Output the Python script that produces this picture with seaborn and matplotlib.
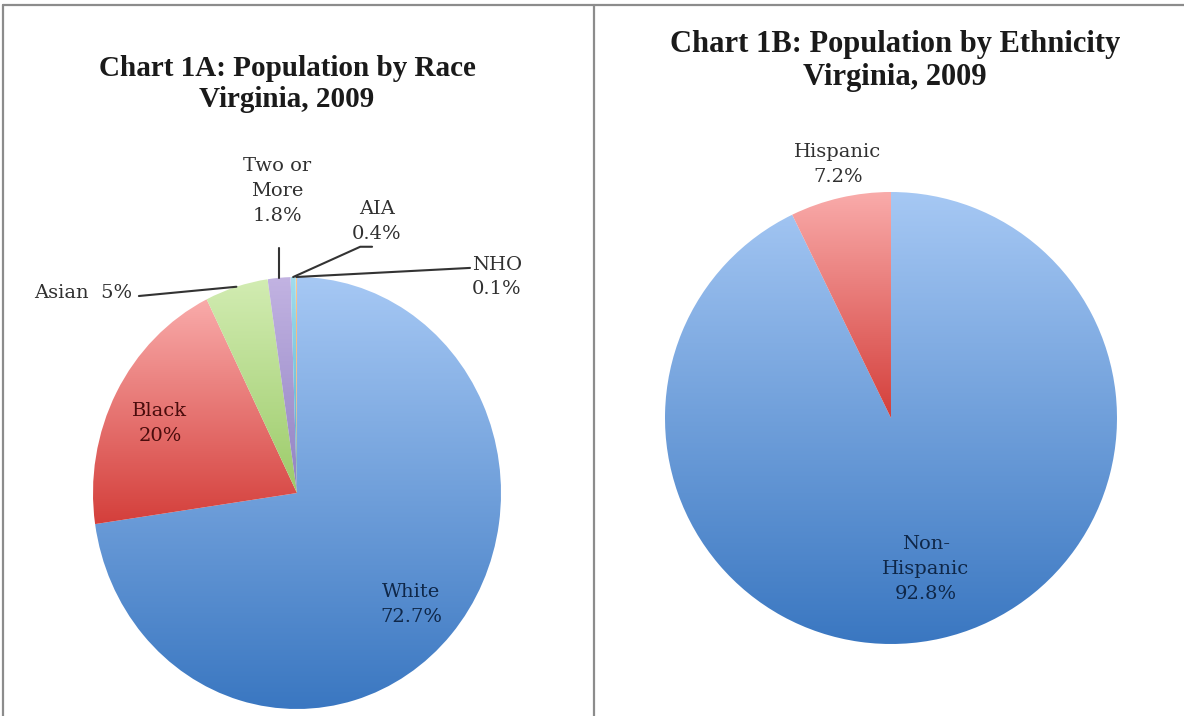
import numpy as np
import matplotlib
matplotlib.use('Agg')
from matplotlib import pyplot as plt
from matplotlib.lines import Line2D
import seaborn as sns

# data
race_names = ['White', 'Black', 'Asian', 'Two or\nMore', 'AIA', 'NHO']
race_values = [72.7, 20.0, 5.0, 1.8, 0.4, 0.1]
race_pct = ['72.7%', '20%', '5%', '1.8%', '0.4%', '0.1%']

eth_names = ['Non-\nHispanic', 'Hispanic']
eth_values = [92.8, 7.2]
eth_pct = ['92.8%', '7.2%']

# gradient colours (top, bottom) per slice, excel style
grad_cols = [('#a6c8f4', '#3a77c1'),
             ('#f9abaa', '#d43f3b'),
             ('#d2ecb2', '#9ccb69'),
             ('#c2b3e2', '#9182c3'),
             ('#a2dcec', '#4aaccc'),
             ('#fcc890', '#f09040')]

sns.set_theme(style='white')
plt.rcParams['font.family'] = ['DejaVu Serif', 'DejaVu Sans']

fig = plt.figure(figsize=(11.84, 7.16), dpi=100)
fig.patch.set_facecolor('white')

def px_box(x0, y0, x1, y1):
    W, H = 1184, 716
    return [x0 / W, (H - y1) / H, (x1 - x0) / W, (y1 - y0) / H]

ax1 = fig.add_axes(px_box(93, 277, 501, 709))
ax2 = fig.add_axes(px_box(665, 192, 1117, 644))

grad = np.linspace(0, 1, 256).reshape(-1, 1)


def draw_pie(ax, values):
    wedges, _ = ax.pie(values, startangle=90, counterclock=False,
                       wedgeprops=dict(linewidth=0))
    for w, (c_top, c_bot) in zip(wedges, grad_cols):
        bb = w.get_path().get_extents()
        w.set_facecolor('none')
        cm = sns.blend_palette([c_top, c_bot], as_cmap=True)
        im = ax.imshow(grad, cmap=cm, extent=(bb.x0, bb.x1, bb.y0, bb.y1),
                       aspect='auto', origin='upper', zorder=1)
        im.set_clip_path(w)
    ax.set_xlim(-1, 1)
    ax.set_ylim(-1, 1)
    ax.set_aspect('auto')
    ax.axis('off')


def mid_point(values, i):
    before = sum(values[:i])
    ang = np.deg2rad(90 - 3.6 * (before + values[i] / 2))
    return np.cos(ang), np.sin(ang)


draw_pie(ax1, race_values)
draw_pie(ax2, eth_values)

# label layout for chart 1A: (x, y, colour, leader start / elbow)
race_layout = {
    'White': (0.56, -0.515, '#0f2748', None),
    'Black': (-0.672, 0.32, '#4a0c0c', None),
    'Asian': (-1.05, 0.925, '#303030', [(-0.775, 0.912)]),
    'Two or\nMore': (-0.098, 1.40, '#303030', 'vertical'),
    'AIA': (0.392, 1.255, '#303030', [(0.368, 1.14), (0.31, 1.14)]),
    'NHO': (0.98, 1.0, '#303030', [(0.848, 1.042)]),
}
lkw = dict(ha='center', va='center', fontsize=14, linespacing=1.5)
for i, name in enumerate(race_names):
    x, y, col, lead = race_layout[name]
    if name == 'Asian':
        txt = f'{name}  {race_pct[i]}'
    else:
        txt = f'{name}\n{race_pct[i]}'
    ax1.text(x, y, txt, color=col, clip_on=False, zorder=5, **lkw)
    if lead is None:
        continue
    tx, ty = mid_point(race_values, i)
    if lead == 'vertical':
        pts = [(tx, 1.135), (tx, ty)]
    else:
        pts = lead + [(tx, ty)]
    xs, ys = zip(*pts)
    ax1.plot(xs, ys, color='#333333', lw=1.5, clip_on=False, zorder=4)

eth_layout = {
    'Non-\nHispanic': (0.155, -0.668, '#0f2748'),
    'Hispanic': (-0.235, 1.12, '#303030'),
}
for i, name in enumerate(eth_names):
    x, y, col = eth_layout[name]
    ax2.text(x, y, f'{name}\n{eth_pct[i]}', color=col, clip_on=False,
             zorder=5, **lkw)

# titles
tkw = dict(ha='center', va='center', fontweight='bold',
           family='Liberation Serif', color='#1a1a1a', linespacing=1.15)
fig.text(287 / 1184, 1 - 84 / 716, 'Chart 1A: Population by Race\nVirginia, 2009',
         fontsize=21, **tkw)
fig.text(895 / 1184, 1 - 61 / 716, 'Chart 1B: Population by Ethnicity\nVirginia, 2009',
         fontsize=22, **tkw)

# panel borders
bcol = '#8c8c8c'
fig.add_artist(Line2D([3 / 1184, 1], [1 - 5 / 716] * 2, color=bcol, lw=1.6))
fig.add_artist(Line2D([3 / 1184] * 2, [0, 1 - 5 / 716], color=bcol, lw=1.6))
fig.add_artist(Line2D([594 / 1184] * 2, [0, 1 - 5 / 716], color=bcol, lw=1.6))

fig.savefig('out.png', dpi=100, facecolor='white')
